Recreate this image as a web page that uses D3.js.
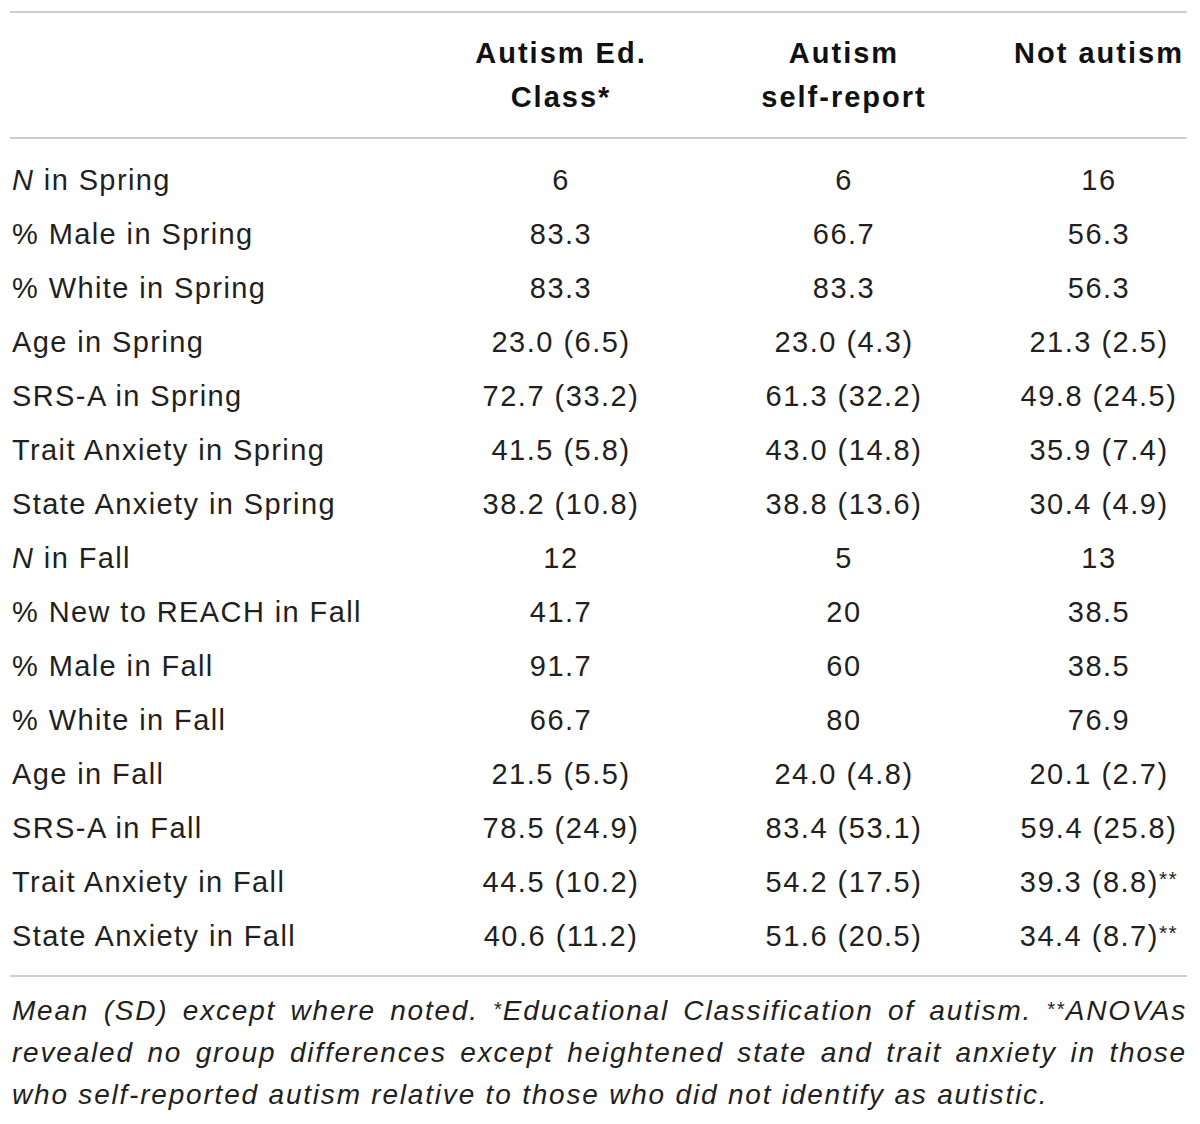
<!DOCTYPE html>
<html>
<head>
<meta charset="utf-8">
<script src="https://cdn.jsdelivr.net/npm/d3@7"></script>
<style>
  body { margin: 0; background: #fff; }
  text { font-family: "Liberation Sans", Arial, sans-serif; fill: #231f20; }
</style>
</head>
<body>
<div id="chart"></div>
<script>
// column headers (two lines each)
var headers = [
    ["Autism Ed.", "Class*"],
    ["Autism", "self-report"],
    ["Not autism", ""]
];

// row labels; a leading "N" is set in italics
var rowLabels = [
    "N in Spring", "% Male in Spring", "% White in Spring", "Age in Spring",
    "SRS-A in Spring", "Trait Anxiety in Spring", "State Anxiety in Spring",
    "N in Fall", "% New to REACH in Fall", "% Male in Fall", "% White in Fall",
    "Age in Fall", "SRS-A in Fall", "Trait Anxiety in Fall", "State Anxiety in Fall"
];

var autismEd = ["6", "83.3", "83.3", "23.0 (6.5)", "72.7 (33.2)", "41.5 (5.8)", "38.2 (10.8)",
    "12", "41.7", "91.7", "66.7", "21.5 (5.5)", "78.5 (24.9)", "44.5 (10.2)", "40.6 (11.2)"];
var autismSelf = ["6", "66.7", "83.3", "23.0 (4.3)", "61.3 (32.2)", "43.0 (14.8)", "38.8 (13.6)",
    "5", "20", "60", "80", "24.0 (4.8)", "83.4 (53.1)", "54.2 (17.5)", "51.6 (20.5)"];
var notAutism = ["16", "56.3", "56.3", "21.3 (2.5)", "49.8 (24.5)", "35.9 (7.4)", "30.4 (4.9)",
    "13", "38.5", "38.5", "76.9", "20.1 (2.7)", "59.4 (25.8)", "39.3 (8.8)**", "34.4 (8.7)**"];

var footnote = [
    [["Mean (SD) except where noted. ", false], ["*", true], ["Educational Classification of autism. ", false], ["**", true], ["ANOVAs", false]],
    [["revealed no group differences except heightened state and trait anxiety in those", false]],
    [["who self-reported autism relative to those who did not identify as autistic.", false]]
];

var W = 1200, H = 1124;
var svg = d3.select("#chart").append("svg")
    .attr("width", W)
    .attr("height", H);

var left = 10, right = 1187;
var columns = [autismEd, autismSelf, notAutism];

var x = d3.scaleOrdinal()
    .domain([0, 1, 2])
    .range([561, 844, 1099]);

var y = d3.scaleBand()
    .domain(d3.range(rowLabels.length))
    .range([153, 963])
    .padding(0);

// rules
[12, 138, 976].forEach(function (ly) {
    svg.append("line")
        .attr("x1", left).attr("x2", right)
        .attr("y1", ly).attr("y2", ly)
        .attr("stroke", "#cfcfcf")
        .attr("stroke-width", 2);
});

// headers
headers.forEach(function (h, i) {
    h.forEach(function (line, j) {
        svg.append("text")
            .attr("x", x(i))
            .attr("y", 63 + j * 44)
            .attr("text-anchor", "middle")
            .style("font-size", "29px")
            .style("font-weight", "bold")
            .style("letter-spacing", "2px")
            .style("fill", "#111")
            .text(line);
    });
});

// row labels
var labels = svg.selectAll(".rowlabel")
    .data(rowLabels)
    .enter().append("text")
    .attr("class", "rowlabel")
    .attr("x", 12)
    .attr("y", function (d, i) { return y(i) + y.bandwidth() / 2; })
    .attr("dy", "0.36em")
    .style("font-size", "29px")
    .style("letter-spacing", "1.4px");

labels.each(function (d) {
    var t = d3.select(this);
    if (d.indexOf("N ") === 0) {
        t.append("tspan").style("font-style", "italic").text("N");
        t.append("tspan").text(d.slice(1));
    } else {
        t.text(d);
    }
});

// cells
columns.forEach(function (col, ci) {
    svg.selectAll(".cell" + ci)
        .data(col)
        .enter().append("text")
        .attr("class", "cell" + ci)
        .attr("x", x(ci))
        .attr("y", function (d, i) { return y(i) + y.bandwidth() / 2; })
        .attr("dy", "0.36em")
        .attr("text-anchor", "middle")
        .style("font-size", "29px")
        .style("letter-spacing", "1.5px")
        .each(function (d) {
            var t = d3.select(this);
            var m = d.match(/^(.*?)(\*+)$/);
            if (m) {
                t.append("tspan").text(m[1]);
                t.append("tspan").attr("dy", "-0.3em").style("font-size", "21px").text(m[2]);
            } else {
                t.text(d);
            }
        });
});

// footnote: first two lines justified by stretching the word gaps
footnote.forEach(function (parts, li) {
    var t = svg.append("text")
        .attr("x", 12)
        .attr("y", 1020 + li * 42)
        .style("font-size", "28px")
        .style("font-style", "italic")
        .style("letter-spacing", "1.8px");
    parts.forEach(function (p) {
        t.append("tspan")
            .style("font-size", p[1] ? "20px" : null)
            .attr("baseline-shift", p[1] ? "20%" : null)
            .text(p[0]);
    });
    if (li < 2) {
        var full = parts.map(function (p) { return p[0]; }).join("");
        var gaps = full.trim().split(/\s+/).length - 1;
        var natural = t.node().getComputedTextLength();
        var extra = (right - 12 - natural) / gaps;
        t.style("word-spacing", extra + "px");
    }
});
</script>
</body>
</html>
